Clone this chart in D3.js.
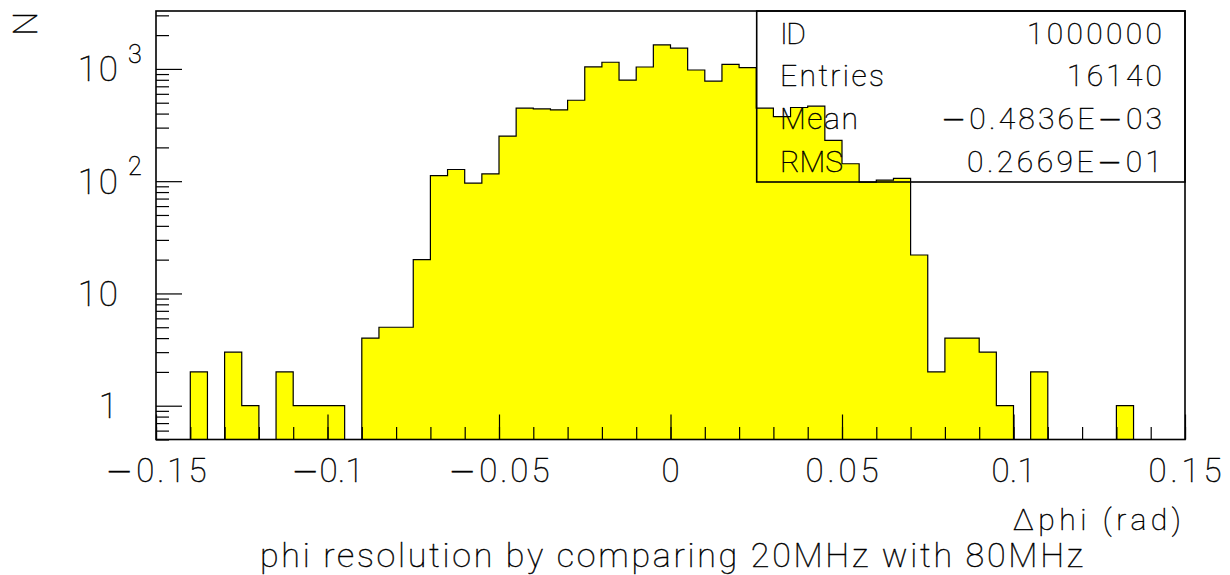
<!DOCTYPE html>
<html>
<head>
<meta charset="utf-8">
<script src="https://cdn.jsdelivr.net/npm/d3@7"></script>
<style>
  html, body { margin: 0; padding: 0; background: #fff; }
  svg { display: block; }
  text { font-family: Roboto, "DejaVu Sans", sans-serif; font-weight: 100; fill: #000;
         stroke: #000; stroke-width: 0.45; }
  tspan.minus { font-family: "DejaVu Sans", sans-serif; font-weight: 200; }
</style>
</head>
<body>
<svg id="chart" width="1230" height="575"></svg>
<script>
// Histogram definition: 60 bins of 0.005 rad starting at -0.15 rad
const binStart = -0.15;
const binWidth = 0.005;
const counts = [
  0, 0, 2, 0, 3, 1, 0, 2, 1, 1,
  1, 0, 4, 5, 5, 20, 112, 127, 96, 116,
  252, 447, 440, 432, 526, 1042, 1146, 796, 1040, 1636,
  1530, 978, 778, 1098, 1028, 447, 376, 453, 466, 231,
  143, 98, 102, 106, 22, 2, 4, 4, 3, 1,
  0, 2, 0, 0, 0, 0, 1, 0, 0, 0
];

// Axis ticks and labels
const xTickValues = [-0.15, -0.1, -0.05, 0, 0.05, 0.1, 0.15];
const xTickLabels = ["−0.15", "−0.1", "−0.05", "0", "0.05", "0.1", "0.15"];
const xLabelWidths = [101, 72, 101, 20, 73, 44, 73];
const yTickValues = [1, 10, 100, 1000];
const yTickBase = ["1", "10", "10", "10"];
const yTickExp = ["", "", "2", "3"];

// Statistics box
const statsNames = ["ID", "Entries", "Mean", "RMS"];
const statsNameWidths = [26, 104, 78, 63];
const statsValues = ["1000000", "16140", "−0.4836E−03", "0.2669E−01"];
const statsValueWidths = [135, 95, 221, 195];

const xTitle = "Δphi (rad)";
const yTitle = "N";
const title = "phi resolution by comparing 20MHz with 80MHz";

const plot = { left: 156, right: 1185, top: 11, bottom: 439.5 };

const svg = d3.select("#chart");

const x = d3.scaleLinear().domain([-0.15, 0.15]).range([plot.left, plot.right]);
const y = d3.scaleLog().domain([0.5, 3280]).range([plot.bottom, plot.top]);

// Writes a string into a text element, giving minus signs a wider glyph
function setText(sel, str) {
  sel.text(null);
  str.split(/(−)/).filter(s => s !== "").forEach(part => {
    const t = sel.append("tspan").text(part);
    if (part === "−") t.attr("class", "minus");
  });
}

// Step outline of the histogram; empty bins drop to the bottom of the frame
const stepPts = [[binStart, null]];
counts.forEach((c, i) => {
  const x0 = binStart + i * binWidth;
  stepPts.push([x0, c > 0 ? c : null]);
  stepPts.push([x0 + binWidth, c > 0 ? c : null]);
});
stepPts.push([binStart + counts.length * binWidth, null]);

const px = d => x(d[0]);
const py = d => (d[1] === null ? plot.bottom : y(d[1]));

svg.append("path")
  .datum(stepPts)
  .attr("fill", "#ffff00")
  .attr("d", d3.area().x(px).y0(plot.bottom).y1(py));

svg.append("path")
  .datum(stepPts)
  .attr("fill", "none")
  .attr("stroke", "#000")
  .attr("stroke-width", 1.2)
  .attr("d", d3.line().x(px).y(py));

// X axis ticks, pointing up into the plot
const xMinor = d3.range(-15, 16).map(k => k / 100);
const gxMinor = svg.append("g")
  .attr("transform", `translate(0,${plot.bottom})`)
  .call(d3.axisBottom(x).tickValues(xMinor).tickSize(-12.5).tickFormat(""));
const gxMajor = svg.append("g")
  .attr("transform", `translate(0,${plot.bottom})`)
  .call(d3.axisBottom(x).tickValues(xTickValues).tickSize(-25).tickFormat(""));

// Y axis ticks, pointing right into the plot
const yMinor = y.ticks().filter(v => !yTickValues.includes(v));
const gyMinor = svg.append("g")
  .attr("transform", `translate(${plot.left},0)`)
  .call(d3.axisLeft(y).tickValues(yMinor).tickSize(-13).tickFormat(""));
const gyMajor = svg.append("g")
  .attr("transform", `translate(${plot.left},0)`)
  .call(d3.axisLeft(y).tickValues(yTickValues).tickSize(-26).tickFormat(""));

[gxMinor, gxMajor, gyMinor, gyMajor].forEach(g => {
  g.select(".domain").remove();
  g.selectAll(".tick line").attr("stroke", "#000").attr("stroke-width", 1.2);
});

// Frame
svg.append("rect")
  .attr("x", plot.left).attr("y", plot.top)
  .attr("width", plot.right - plot.left).attr("height", plot.bottom - plot.top)
  .attr("fill", "none").attr("stroke", "#000").attr("stroke-width", 1.6);

// X tick labels
svg.append("g").selectAll("text")
  .data(xTickValues)
  .join("text")
  .attr("x", d => x(d))
  .attr("y", 482)
  .attr("text-anchor", "middle")
  .attr("font-size", 33)
  .attr("textLength", (d, i) => xLabelWidths[i])
  .attr("lengthAdjust", "spacing")
  .each(function (d, i) { setText(d3.select(this), xTickLabels[i]); });

// Y tick labels with superscript exponents
const gyl = svg.append("g");
gyl.selectAll("text.base")
  .data(yTickValues)
  .join("text")
  .attr("class", "base")
  .attr("x", 120)
  .attr("y", d => y(d) + 12.5)
  .attr("text-anchor", "end")
  .attr("font-size", 35)
  .attr("letter-spacing", 2)
  .text((d, i) => yTickBase[i]);
gyl.selectAll("text.exp")
  .data(yTickValues.filter((d, i) => yTickExp[i] !== ""))
  .join("text")
  .attr("class", "exp")
  .attr("x", 128)
  .attr("y", d => y(d) - 6)
  .attr("text-anchor", "start")
  .attr("font-size", 25)
  .text(d => yTickExp[yTickValues.indexOf(d)]);

// Axis titles
svg.append("text")
  .attr("transform", "translate(36.5,23.7) rotate(-90)")
  .attr("text-anchor", "middle")
  .attr("font-size", 34)
  .text(yTitle);

svg.append("text")
  .attr("x", 1181)
  .attr("y", 530)
  .attr("text-anchor", "end")
  .attr("font-size", 30)
  .attr("textLength", 168)
  .attr("lengthAdjust", "spacing")
  .text(xTitle);

svg.append("text")
  .attr("x", 671.5)
  .attr("y", 567)
  .attr("text-anchor", "middle")
  .attr("font-size", 34)
  .attr("textLength", 823)
  .attr("lengthAdjust", "spacing")
  .text(title);

// Statistics box (no fill, histogram shows through)
const box = { left: 756.7, right: plot.right, top: plot.top, bottom: 182 };
svg.append("rect")
  .attr("x", box.left).attr("y", box.top)
  .attr("width", box.right - box.left).attr("height", box.bottom - box.top)
  .attr("fill", "none").attr("stroke", "#000").attr("stroke-width", 1.6);

const gs = svg.append("g");
gs.selectAll("text.name")
  .data(statsNames)
  .join("text")
  .attr("class", "name")
  .attr("x", 780)
  .attr("y", (d, i) => 43.5 + i * 42.8)
  .attr("font-size", 30)
  .attr("textLength", (d, i) => statsNameWidths[i])
  .attr("lengthAdjust", "spacing")
  .text(d => d);
gs.selectAll("text.value")
  .data(statsValues)
  .join("text")
  .attr("class", "value")
  .attr("x", 1162)
  .attr("y", (d, i) => 43.5 + i * 42.8)
  .attr("text-anchor", "end")
  .attr("font-size", 30)
  .attr("textLength", (d, i) => statsValueWidths[i])
  .attr("lengthAdjust", "spacing")
  .each(function (d) { setText(d3.select(this), d); });
</script>
</body>
</html>
